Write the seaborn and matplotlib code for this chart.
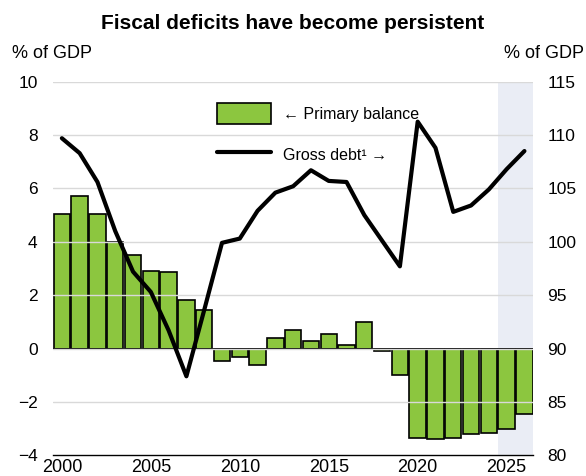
import numpy as np
import pandas as pd
import matplotlib
matplotlib.use("Agg")
import matplotlib.pyplot as plt
import matplotlib.ticker as mticker
from matplotlib.patches import Patch
from matplotlib.lines import Line2D
import seaborn as sns

# datos
years = list(range(2000, 2027))
primary_balance = [5.05, 5.7, 5.05, 4.0, 3.5, 2.9, 2.85, 1.8, 1.45, -0.45, -0.3, -0.6,
                   0.4, 0.7, 0.3, 0.55, 0.15, 1.0, -0.08, -1.0, -3.35, -3.4, -3.35,
                   -3.2, -3.15, -3.0, -2.45]
gross_debt = [109.7, 108.3, 105.6, 101.0, 97.2, 95.3, 91.7, 87.4, 93.6, 99.9, 100.3,
              102.9, 104.6, 105.2, 106.7, 105.7, 105.6, 102.5, 100.1, 97.7, 111.25,
              108.8, 102.8, 103.4, 104.9, 106.8, 108.5]
forecast_start = 2025

df = pd.DataFrame({"Year": years, "Primary": primary_balance, "Debt": gross_debt})

sns.set_style("white")
plt.rcParams["font.family"] = ["Liberation Sans", "DejaVu Sans"]
plt.rcParams["text.color"] = "black"
plt.rcParams["xtick.color"] = "black"
plt.rcParams["ytick.color"] = "black"

green = "#8CC63F"

fig = plt.figure(figsize=(5.86, 4.76), dpi=100)
ax = fig.add_axes([0.0904, 0.0435, 0.8197, 0.785])

# zona de proyeccion
ax.axvspan(forecast_start - 0.5, years[-1] + 0.5, color="#EAEDF5", zorder=0, lw=0)

sns.barplot(data=df, x="Year", y="Primary", native_scale=True, color=green,
            edgecolor="black", linewidth=1.2, width=0.92, saturation=1, ax=ax, zorder=1)

ax.set_xlim(years[0] - 0.5, years[-1] + 0.5)
ax.set_ylim(-4, 10)
ax.set_yticks(range(-4, 11, 2))
ax.yaxis.grid(True, color="#D9D9D9", lw=1.0)
ax.set_axisbelow(False)
for gl in ax.get_ygridlines():
    gl.set_zorder(1.5)
ax.axhline(0, color="black", lw=1.2, zorder=2)

ax.set_xticks(range(2000, 2027, 5))
ax.xaxis.set_minor_locator(mticker.FixedLocator(np.arange(years[0] - 0.5, years[-1] + 1, 1)))
ax.tick_params(axis="x", which="major", length=0, labelsize=13, pad=3)
ax.tick_params(axis="x", which="minor", direction="in", length=6.3, width=0.8, color="#333333")
ax.tick_params(axis="y", length=0, labelsize=12.5, pad=11)
ax.set_xlabel("")
ax.set_ylabel("")
for s in ["top", "left", "right"]:
    ax.spines[s].set_visible(False)
ax.spines["bottom"].set_color("black")
ax.spines["bottom"].set_linewidth(1.0)

# deuda bruta en eje derecho
ax2 = ax.twinx()
sns.lineplot(data=df, x="Year", y="Debt", color="black", lw=3.0, ax=ax2)
ax2.set_ylim(80, 115)
ax2.set_yticks(range(80, 116, 5))
ax2.tick_params(axis="y", length=0, labelsize=12.5, pad=10)
ax2.set_ylabel("")
for s in ["top", "left", "right", "bottom"]:
    ax2.spines[s].set_visible(False)

handles = [Patch(facecolor=green, edgecolor="black", linewidth=1.2),
           Line2D([], [], color="black", lw=3.0)]
ax2.legend(handles, ["\u2190 Primary balance", "Gross debt\u00b9 \u2192"],
           loc="upper left", bbox_to_anchor=(0.325, 0.965), frameon=False,
           fontsize=11.5, handlelength=3.4, handleheight=1.7, handletextpad=0.7,
           labelspacing=1.25, borderpad=0)

fig.text(0.5, 0.95, "Fiscal deficits have become persistent", ha="center", va="center",
         fontsize=15, fontweight="bold")
fig.text(0.02, 0.888, "% of GDP", ha="left", va="center", fontsize=13)
fig.text(0.997, 0.888, "% of GDP", ha="right", va="center", fontsize=13)

fig.savefig("out.png", dpi=100)
